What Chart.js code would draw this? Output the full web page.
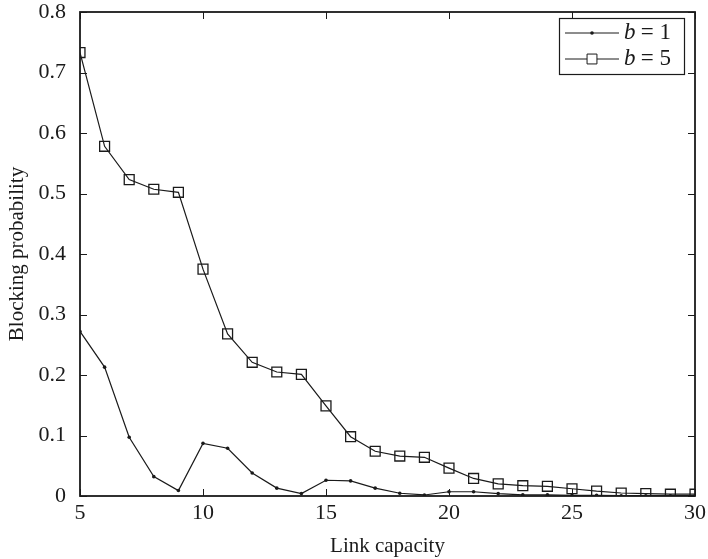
<!DOCTYPE html>
<html>
<head>
<meta charset="utf-8">
<script src="https://cdn.jsdelivr.net/npm/chart.js@4.4.1/dist/chart.umd.min.js"></script>
<style>
  html, body { margin: 0; padding: 0; background: #fff; }
  #wrap { width: 708px; height: 559px; }
</style>
</head>
<body>
<div id="wrap"><canvas id="chart" width="708" height="559"></canvas></div>
<script>
// link capacity values
const capacity = [5, 6, 7, 8, 9, 10, 11, 12, 13, 14, 15, 16, 17, 18, 19, 20, 21, 22, 23, 24, 25, 26, 27, 28, 29, 30];
// blocking probability, b = 1
const blockB1 = [0.272, 0.213, 0.097, 0.032, 0.009, 0.087, 0.079, 0.038, 0.013, 0.004, 0.026, 0.025, 0.013, 0.0045, 0.0017, 0.007, 0.007, 0.004, 0.002, 0.002, 0.001, 0.001, 0.0005, 0.0005, 0.0005, 0.0005];
// blocking probability, b = 5
const blockB5 = [0.733, 0.578, 0.523, 0.507, 0.502, 0.375, 0.268, 0.221, 0.205, 0.201, 0.149, 0.098, 0.074, 0.066, 0.064, 0.046, 0.029, 0.020, 0.017, 0.016, 0.012, 0.008, 0.005, 0.004, 0.003, 0.003];
const xTicks = [5, 10, 15, 20, 25, 30];
const yTicks = [0, 0.1, 0.2, 0.3, 0.4, 0.5, 0.6, 0.7, 0.8];
const seriesNames = ['1', '5'];

const ink = '#1a1a1a';
const serif = '"Liberation Serif", "DejaVu Serif", serif';

// frame, inward ticks and inset legend
const framePlugin = {
  id: 'frame',
  afterDraw(chart) {
    const { ctx, chartArea: a, scales } = chart;
    ctx.save();
    ctx.strokeStyle = ink;
    ctx.lineWidth = 1.8;
    ctx.strokeRect(a.left, a.top, a.right - a.left, a.bottom - a.top);
    ctx.lineWidth = 1;
    ctx.beginPath();
    xTicks.forEach(v => {
      const px = Math.round(scales.x.getPixelForValue(v)) + 0.5;
      ctx.moveTo(px, a.bottom); ctx.lineTo(px, a.bottom - 7);
      ctx.moveTo(px, a.top); ctx.lineTo(px, a.top + 7);
    });
    yTicks.forEach(v => {
      const py = Math.round(scales.y.getPixelForValue(v)) + 0.5;
      ctx.moveTo(a.left, py); ctx.lineTo(a.left + 7, py);
      ctx.moveTo(a.right, py); ctx.lineTo(a.right - 7, py);
    });
    ctx.stroke();

    // legend box
    const lx = 559, ly = 18, lw = 125, lh = 56;
    ctx.fillStyle = '#fff';
    ctx.fillRect(lx, ly, lw, lh);
    ctx.lineWidth = 1.2;
    ctx.strokeRect(lx + 0.5, ly + 0.5, lw, lh);
    chart.data.datasets.forEach((ds, i) => {
      const y = ly + 15 + i * 26;
      ctx.lineWidth = 1;
      ctx.strokeStyle = ink;
      ctx.beginPath();
      ctx.moveTo(lx + 6, y); ctx.lineTo(lx + 60, y);
      ctx.stroke();
      ctx.fillStyle = i === 0 ? ink : '#fff';
      Chart.helpers.drawPoint(ctx, {
        pointStyle: ds.pointStyle, radius: ds.pointRadius, borderWidth: ds.pointBorderWidth
      }, lx + 33, y);
      ctx.fillStyle = ink;
      ctx.textBaseline = 'middle';
      ctx.font = 'italic 23px ' + serif;
      ctx.fillText('b', lx + 65, y);
      ctx.font = '23px ' + serif;
      ctx.fillText(' = ' + seriesNames[i], lx + 76, y);
    });
    ctx.restore();
  }
};

new Chart(document.getElementById('chart'), {
  type: 'line',
  data: {
    datasets: [
      {
        label: 'b = 1',
        data: capacity.map((c, i) => ({ x: c, y: blockB1[i] })),
        borderColor: ink,
        backgroundColor: ink,
        borderWidth: 1.2,
        pointStyle: 'circle',
        pointRadius: 1.8,
        pointBorderWidth: 0,
        tension: 0
      },
      {
        label: 'b = 5',
        data: capacity.map((c, i) => ({ x: c, y: blockB5[i] })),
        borderColor: ink,
        backgroundColor: 'rgba(0,0,0,0)',
        borderWidth: 1.2,
        pointStyle: 'rect',
        pointRadius: 7,
        pointBorderWidth: 1.3,
        tension: 0
      }
    ]
  },
  options: {
    responsive: false,
    animation: false,
    layout: { padding: { top: 12, right: 13, left: 0, bottom: 0 } },
    plugins: { legend: { display: false }, tooltip: { enabled: false } },
    scales: {
      x: {
        type: 'linear',
        min: 5, max: 30,
        afterBuildTicks: s => { s.ticks = xTicks.map(v => ({ value: v })); },
        afterFit: s => { s.height = 63; s.paddingLeft = 0; s.paddingRight = 0; },
        grid: { display: false },
        border: { display: false },
        ticks: { color: ink, font: { family: serif, size: 22 }, padding: -4, maxRotation: 0 },
        title: { display: true, text: 'Link capacity', color: ink, font: { family: serif, size: 21 }, padding: { top: 0, bottom: 0 } }
      },
      y: {
        min: 0, max: 0.8,
        afterBuildTicks: s => { s.ticks = yTicks.map(v => ({ value: v })); },
        afterFit: s => { s.width = 80; s.paddingTop = 0; s.paddingBottom = 0; },
        grid: { display: false },
        border: { display: false },
        ticks: { color: ink, font: { family: serif, size: 22 }, padding: 6,
          callback: v => v === 0 ? '0' : v.toFixed(1) },
        title: { display: true, text: 'Blocking probability', color: ink, font: { family: serif, size: 21 }, padding: { top: 5, bottom: 0 } }
      }
    }
  },
  plugins: [framePlugin]
});
</script>
</body>
</html>
